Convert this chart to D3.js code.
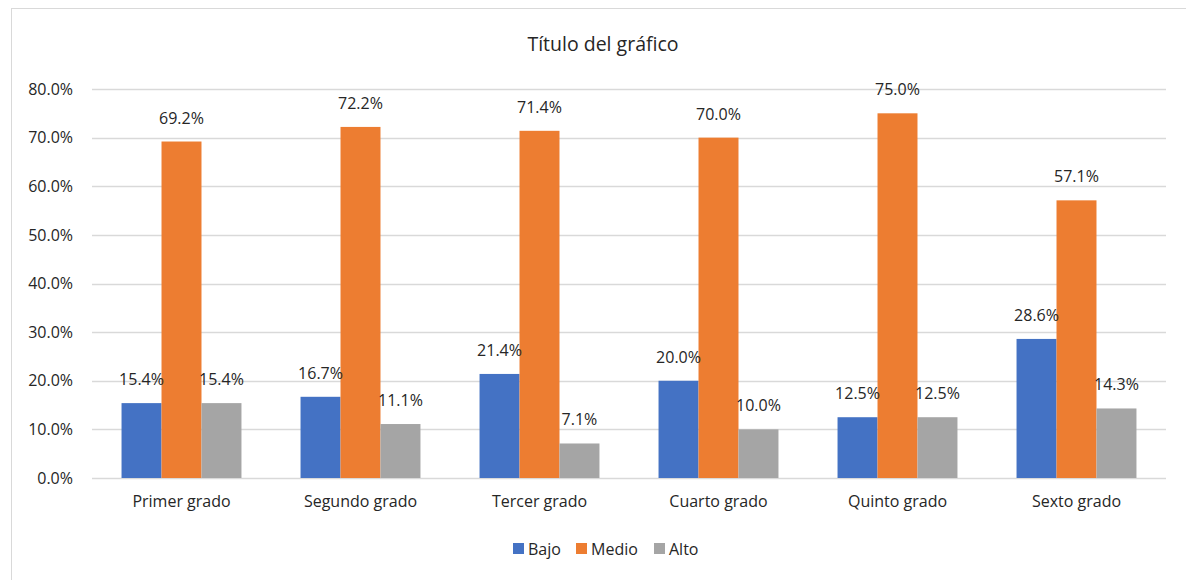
<!DOCTYPE html>
<html><head><meta charset="utf-8">
<script src="https://cdn.jsdelivr.net/npm/d3@7"></script>
<style>body{margin:0;background:#fff;}svg{display:block;font-family:"Open Sans",sans-serif;}</style>
</head><body>
<svg id="c" width="1186" height="580"></svg>
<script>
const categories = ["Primer grado","Segundo grado","Tercer grado","Cuarto grado","Quinto grado","Sexto grado"];
const seriesNames = ["Bajo","Medio","Alto"];
const bajo = [0.154,0.167,0.214,0.200,0.125,0.286];
const medio = [0.692,0.722,0.714,0.700,0.750,0.571];
const alto = [0.154,0.111,0.071,0.100,0.125,0.143];
const yTicks = [0,0.1,0.2,0.3,0.4,0.5,0.6,0.7,0.8];
const colors = ["#4472C4","#ED7D31","#A5A5A5"];
const seriesVals = [bajo, medio, alto];

(function(){
const svg = d3.select("#c");
svg.append("rect").attr("x",11.5).attr("y",8.5).attr("width",1200).attr("height",600)
  .attr("fill","#fff").attr("stroke","#D9D9D9").attr("stroke-width",1);

const pL=92, pR=1166, pT=89, pB=478;
const x = d3.scaleBand().domain(categories).range([pL,pR]).paddingInner(0.33).paddingOuter(0.165);
const xs = d3.scaleBand().domain(seriesNames).range([0,x.bandwidth()]);
const y = d3.scaleLinear().domain([0,0.8]).range([pB,pT]);
const txt = "#262626";
const fs = 16;

svg.append("text").attr("x",603).attr("y",51).attr("text-anchor","middle")
  .attr("font-size",19.5).attr("fill",txt).text("Título del gráfico");

svg.append("g").selectAll("line").data(yTicks).enter().append("line")
  .attr("x1",pL).attr("x2",pR).attr("y1",d=>Math.round(y(d))+0.5).attr("y2",d=>Math.round(y(d))+0.5)
  .attr("stroke","#D9D9D9").attr("stroke-width",1.3);

const yAxis = d3.axisLeft(y).tickValues(yTicks).tickFormat(d3.format(".1%")).tickSize(0).tickPadding(19);
const ya = svg.append("g").attr("transform",`translate(${pL},0)`).call(yAxis);
ya.select(".domain").remove();
ya.attr("font-family",null);
ya.selectAll("text").attr("font-size",fs).attr("fill",txt);

seriesVals.forEach((vals,si)=>{
  svg.append("g").selectAll("rect").data(vals).enter().append("rect")
    .attr("x",(d,i)=>x(categories[i])+xs(seriesNames[si]))
    .attr("width",xs.bandwidth())
    .attr("y",d=>y(d)).attr("height",d=>pB-y(d))
    .attr("fill",colors[si]);
});
seriesVals.forEach((vals,si)=>{
  svg.append("g").selectAll("text").data(vals).enter().append("text")
    .attr("x",(d,i)=>x(categories[i])+xs(seriesNames[si])+xs.bandwidth()/2)
    .attr("y",d=>y(d)-18)
    .attr("text-anchor","middle").attr("font-size",fs).attr("fill",txt)
    .text(d=>d3.format(".1%")(d));
});

const xAxis = d3.axisBottom(x).tickSize(0).tickPadding(18);
const xa = svg.append("g").attr("transform",`translate(0,${pB})`).call(xAxis);
xa.select(".domain").remove();
xa.attr("font-family",null);
xa.selectAll("text").attr("font-size",fs).attr("fill",txt);

const legX=[513,576,654];
const lg = svg.append("g");
seriesNames.forEach((n,i)=>{
  lg.append("rect").attr("x",legX[i]).attr("y",543).attr("width",11).attr("height",11).attr("fill",colors[i]);
  lg.append("text").attr("x",legX[i]+15).attr("y",554.5).attr("font-size",fs).attr("fill",txt).text(n);
});
})();
</script>
</body></html>
